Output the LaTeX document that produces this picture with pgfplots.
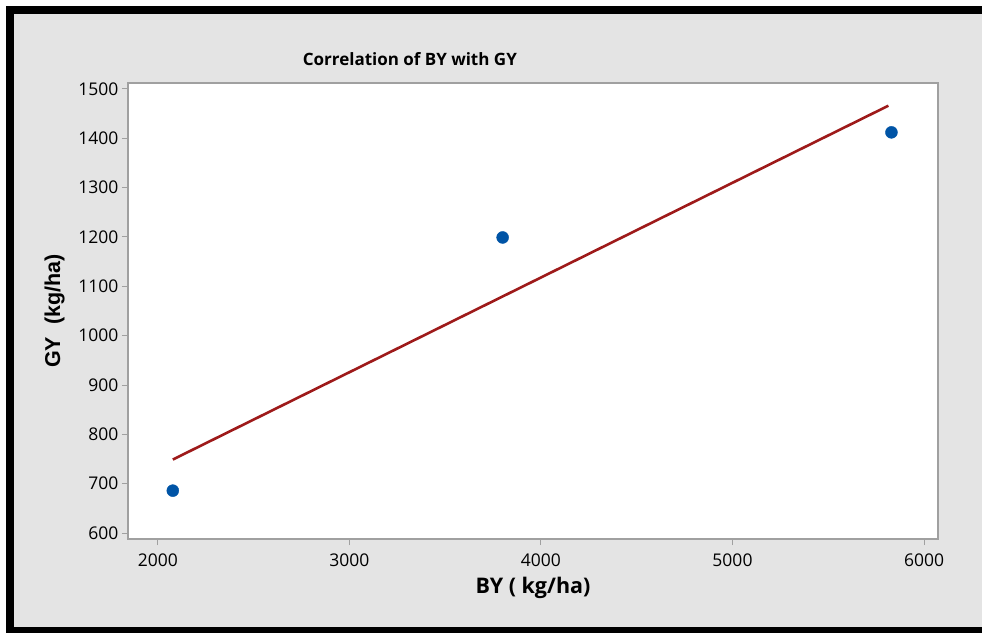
\documentclass[border=0pt]{standalone}
\usepackage{pgfplots}
\pgfplotsset{compat=1.18}
\usepackage{fontspec}
\setmainfont{Open Sans}
\newfontfamily\arialfont{Liberation Sans}

\definecolor{panelgray}{RGB}{228,228,228}
\definecolor{framegray}{RGB}{160,160,160}
\definecolor{fitred}{RGB}{158,26,26}
\definecolor{dotblue}{RGB}{0,84,166}

\begin{document}
\begin{tikzpicture}
% background panel: plot area is placed at (0,0)-(810pt,456pt)
\useasboundingbox (-128pt,-93pt) rectangle (854pt,539pt);
\fill[white] (-128pt,-93pt) rectangle (880pt,539pt);
\fill[black] (-122pt,-100pt) rectangle (880pt,533pt);
\fill[panelgray] (-114pt,-88pt) rectangle (880pt,525pt);
\begin{axis}[
  scale only axis,
  width=810pt, height=456pt,
  xmin=1844, xmax=6073,
  ymin=588, ymax=1512,
  xtick={2000,3000,4000,5000,6000},
  ytick={600,700,...,1500},
  axis background/.style={fill=white},
  axis line style={framegray, line width=1.2pt},
  tick style={framegray, line width=1pt},
  tick align=outside,
  major tick length=6pt,
  xtick pos=bottom, ytick pos=left,
  ticklabel style={font=\fontsize{17.5}{20}\selectfont},
  xticklabel style={yshift=-5pt},
  /pgf/number format/assume math mode=true,
  /pgf/number format/set thousands separator={},
  title={Correlation of BY with GY},
  title style={font=\fontsize{17}{20}\selectfont\bfseries, at={(0.348,1.0526)}, anchor=center, yshift=-6pt},
  xlabel={BY ( kg/ha)},
  xlabel style={font=\fontsize{21.5}{24}\selectfont\bfseries, at={(0.5,-0.108)}, anchor=center},
  ylabel={GY\ \ (kg/ha)},
  ylabel style={font=\arialfont\fontsize{21.5}{24}\selectfont\bfseries, at={(-0.0905,0.5)}, anchor=center},
]
% fitted line
\addplot[fitred, line width=2.6pt, no marks] coordinates {(2078,749) (5814,1466)};
% observations
\addplot[only marks, mark=*, mark size=6pt, dotblue, mark options={draw=dotblue, fill=dotblue}]
  coordinates {(2078,686) (3800,1199) (5830,1412)};
\end{axis}
\end{tikzpicture}
\end{document}
